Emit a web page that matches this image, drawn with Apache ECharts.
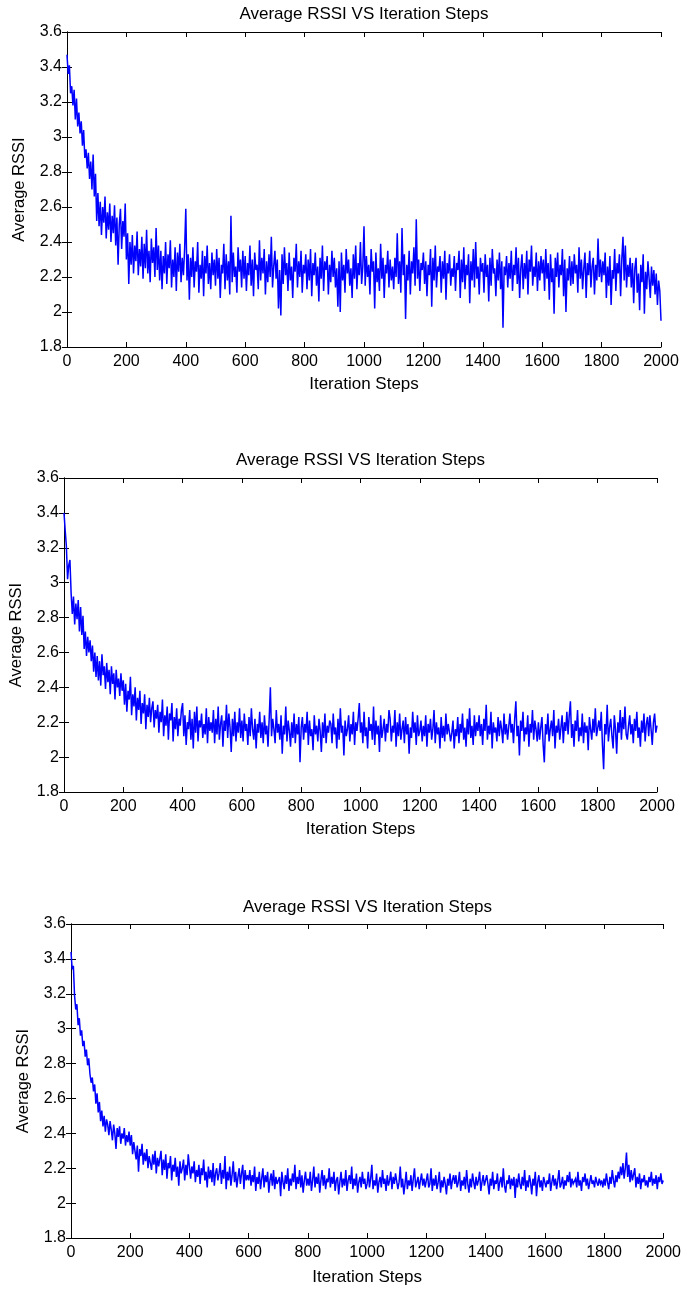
<!DOCTYPE html>
<html>
<head>
<meta charset="utf-8">
<script src="https://cdn.jsdelivr.net/npm/echarts@6/dist/echarts.min.js"></script>
<style>
html,body{margin:0;padding:0;background:#fff;}
#chart{width:684px;height:1289px;}
</style>
</head>
<body>
<div id="chart"></div>
<script>
// Iteration steps sampled every 4 steps from 0 to 2000
const stepSize = 4;
const xTicks = [0,200,400,600,800,1000,1200,1400,1600,1800,2000];
const yTicks = [1.8,2,2.2,2.4,2.6,2.8,3,3.2,3.4,3.6];
const titleText = 'Average RSSI VS Iteration Steps';
const xName = 'Iteration Steps';
const yName = 'Average RSSI';

const rssi1 = [
3.47,3.36,3.41,3.25,3.29,3.18,3.27,3.10,3.22,3.06,3.14,3.02,3.09,2.95,3.04,2.88,2.93,2.82,2.91,2.76,2.86,2.70,2.90,2.66,2.79,
2.52,2.68,2.49,2.63,2.44,2.60,2.51,2.66,2.42,2.57,2.47,2.62,2.40,2.55,2.45,2.61,2.38,2.54,2.27,2.50,2.59,2.36,2.52,2.43,2.62,
2.30,2.45,2.16,2.40,2.27,2.44,2.22,2.38,2.29,2.46,2.21,2.36,2.26,2.43,2.19,2.39,2.25,2.47,2.22,2.35,2.17,2.42,2.28,2.37,2.20,
2.48,2.24,2.38,2.18,2.35,2.13,2.32,2.22,2.40,2.16,2.33,2.25,2.41,2.14,2.30,2.20,2.37,2.12,2.34,2.23,2.39,2.17,2.31,2.21,2.36,
2.59,2.18,2.33,2.07,2.31,2.20,2.37,2.14,2.29,2.23,2.40,2.11,2.27,2.19,2.35,2.09,2.32,2.22,2.38,2.16,2.28,2.13,2.34,2.21,2.30,
2.15,2.36,2.19,2.31,2.08,2.27,2.22,2.39,2.13,2.33,2.18,2.29,2.10,2.55,2.17,2.34,2.20,2.26,2.11,2.37,2.23,2.30,2.14,2.35,2.19,
2.32,2.12,2.28,2.21,2.38,2.15,2.30,2.09,2.34,2.24,2.27,2.13,2.41,2.18,2.31,2.22,2.36,2.10,2.29,2.17,2.33,2.20,2.43,2.14,2.26,
2.35,2.19,2.30,2.02,2.24,1.98,2.33,2.16,2.37,2.21,2.28,2.12,2.34,2.18,2.26,2.08,2.31,2.23,2.39,2.14,2.29,2.20,2.35,2.11,2.27,
2.22,2.33,2.13,2.30,2.18,2.36,2.09,2.28,2.21,2.34,2.15,2.26,2.06,2.31,2.19,2.38,2.12,2.29,2.24,2.32,2.10,2.27,2.17,2.35,2.20,
2.31,2.14,2.25,2.03,2.29,2.00,2.34,2.18,2.27,2.11,2.36,2.22,2.30,2.15,2.25,2.08,2.33,2.19,2.38,2.13,2.28,2.21,2.40,2.16,2.26,
2.49,2.15,2.32,2.20,2.27,2.10,2.36,2.23,2.29,2.02,2.34,2.17,2.25,2.12,2.39,2.19,2.31,2.08,2.27,2.22,2.35,2.14,2.30,2.18,2.26,
2.13,2.31,2.20,2.45,2.16,2.29,2.11,2.48,2.21,2.33,1.96,2.27,2.18,2.35,2.10,2.29,2.22,2.37,2.15,2.53,2.19,2.30,2.12,2.28,2.24,
2.34,2.16,2.29,2.09,2.27,2.21,2.36,2.03,2.31,2.18,2.38,2.14,2.26,2.23,2.32,2.11,2.29,2.19,2.35,2.07,2.28,2.22,2.33,2.15,2.25,
2.20,2.32,2.12,2.28,2.24,2.35,2.08,2.30,2.17,2.37,2.13,2.27,2.21,2.33,2.05,2.29,2.18,2.36,2.14,2.40,2.19,2.26,2.10,2.31,2.23,
2.28,2.11,2.33,2.20,2.27,2.06,2.31,2.15,2.36,2.22,2.25,2.09,2.30,2.18,2.34,2.13,2.29,1.91,2.26,2.21,2.32,2.14,2.28,2.19,2.35,
2.12,2.27,2.21,2.37,2.16,2.31,2.08,2.25,2.33,2.13,2.28,2.19,2.35,2.10,2.30,2.23,2.38,2.15,2.26,2.20,2.34,2.12,2.29,2.18,2.32,
2.22,2.30,2.12,2.36,2.19,2.28,2.07,2.33,2.17,2.25,1.99,2.31,2.20,2.34,2.14,2.27,2.21,2.36,2.09,2.30,2.00,2.25,2.18,2.32,2.15,
2.29,2.16,2.33,2.22,2.27,2.11,2.37,2.19,2.30,2.13,2.25,2.34,2.08,2.28,2.21,2.35,2.14,2.26,2.31,2.10,2.27,2.18,2.42,2.20,2.30,
2.17,2.29,2.21,2.34,2.08,2.26,2.15,2.32,2.04,2.24,2.19,2.36,2.12,2.28,2.22,2.33,2.09,2.30,2.43,2.18,2.38,2.14,2.27,2.20,2.31,
2.14,2.28,2.05,2.25,2.31,2.11,2.22,2.01,2.27,2.17,2.33,1.99,2.23,2.13,2.29,2.19,2.08,2.26,2.15,2.24,2.10,2.22,2.04,2.18,2.12,
1.95];

const rssi2 = [
3.40,3.30,3.21,3.02,3.10,3.13,2.94,2.82,2.92,2.76,2.88,2.79,2.90,2.72,2.86,2.70,2.81,2.62,2.72,2.58,2.69,2.60,2.67,2.55,2.64,
2.49,2.60,2.46,2.58,2.44,2.55,2.41,2.59,2.47,2.52,2.39,2.54,2.43,2.50,2.36,2.52,2.42,2.48,2.33,2.50,2.40,2.45,2.35,2.48,2.38,
2.44,2.30,2.42,2.26,2.38,2.33,2.46,2.24,2.36,2.29,2.40,2.21,2.34,2.27,2.38,2.19,2.31,2.25,2.36,2.16,2.30,2.23,2.34,2.20,2.28,
2.32,2.17,2.27,2.22,2.30,2.14,2.26,2.20,2.33,2.12,2.24,2.18,2.29,2.10,2.25,2.21,2.31,2.09,2.23,2.16,2.28,2.12,2.22,2.18,2.27,
2.31,2.12,2.24,2.07,2.20,2.16,2.27,2.10,2.22,2.05,2.26,2.14,2.29,2.09,2.21,2.17,2.25,2.11,2.19,2.13,2.28,2.08,2.23,2.15,2.20,
2.14,2.27,2.08,2.22,2.13,2.29,2.10,2.19,2.24,2.06,2.21,2.15,2.30,2.11,2.25,2.17,2.03,2.22,2.12,2.26,2.09,2.20,2.14,2.28,2.11,
2.21,2.09,2.25,2.15,2.19,2.07,2.23,2.12,2.28,2.16,2.10,2.22,2.05,2.19,2.14,2.26,2.11,2.20,2.08,2.24,2.13,2.18,2.06,2.22,2.40,
2.12,2.22,2.16,2.08,2.27,2.14,2.19,2.10,2.24,2.02,2.18,2.13,2.29,2.09,2.21,2.15,2.06,2.20,2.11,2.25,2.08,2.19,2.13,2.23,1.97,
2.17,2.23,2.10,2.19,2.14,2.26,2.07,2.21,2.12,2.16,2.04,2.24,2.13,2.18,2.09,2.22,2.15,2.03,2.20,2.11,2.25,2.08,2.18,2.14,2.21,
2.19,2.08,2.25,2.13,2.17,2.05,2.22,2.10,2.28,2.14,2.18,2.01,2.21,2.12,2.16,2.24,2.09,2.19,2.13,2.26,2.07,2.20,2.15,2.22,2.31,
2.14,2.20,2.08,2.26,2.12,2.17,2.05,2.23,2.15,2.19,2.10,2.29,2.07,2.21,2.13,2.18,2.03,2.24,2.11,2.16,2.22,2.09,2.19,2.14,2.27,
2.22,2.09,2.18,2.14,2.27,2.06,2.20,2.12,2.25,2.10,2.16,2.21,2.08,2.23,2.13,2.19,2.02,2.17,2.11,2.26,2.14,2.20,2.07,2.24,2.12,
2.15,2.21,2.09,2.18,2.12,2.24,2.06,2.19,2.14,2.22,2.10,2.16,2.27,2.08,2.20,2.13,2.17,2.05,2.23,2.11,2.18,2.09,2.25,2.13,2.19,
2.18,2.09,2.14,2.21,2.05,2.16,2.12,2.23,2.08,2.19,2.14,2.25,2.10,2.17,2.06,2.22,2.13,2.28,2.11,2.18,2.07,2.24,2.12,2.20,2.15,
2.24,2.12,2.19,2.07,2.22,2.15,2.30,2.10,2.18,2.13,2.26,2.05,2.20,2.14,2.17,2.09,2.23,2.12,2.21,2.16,2.08,2.25,2.13,2.19,2.10,
2.11,2.25,2.14,2.19,2.08,2.22,2.32,2.12,2.18,2.01,2.21,2.15,2.26,2.09,2.17,2.13,2.24,2.06,2.19,2.14,2.27,2.10,2.21,2.16,2.09,
2.20,2.10,2.17,2.23,2.07,1.97,2.19,2.13,2.25,2.09,2.16,2.21,2.12,2.27,2.05,2.18,2.14,2.22,2.10,2.17,2.24,2.08,2.20,2.15,2.26,
2.13,2.24,2.32,2.11,2.19,2.06,2.21,2.15,2.27,2.09,2.17,2.12,2.25,2.08,2.20,2.14,2.18,2.04,2.23,2.16,2.10,2.22,2.14,2.28,2.12,
2.11,2.21,2.15,2.26,2.07,1.93,2.19,2.13,2.30,2.09,2.17,2.22,2.12,2.05,2.24,2.16,2.02,2.20,2.14,2.27,2.10,2.23,2.16,2.29,2.13,
2.10,2.18,2.24,2.13,2.19,2.08,2.22,2.15,2.26,2.11,2.17,2.06,2.21,2.14,2.25,2.09,2.19,2.23,2.12,2.24,2.16,2.07,2.20,2.25,2.14,
2.18];

const rssi3 = [
3.44,3.34,3.36,3.19,3.11,3.14,3.02,3.06,2.96,2.99,2.90,2.93,2.84,2.88,2.79,2.83,2.74,2.69,2.72,2.64,2.68,2.57,2.63,2.52,2.58,
2.47,2.53,2.44,2.50,2.41,2.48,2.45,2.39,2.47,2.42,2.36,2.45,2.40,2.31,2.43,2.38,2.44,2.34,2.40,2.37,2.43,2.33,2.39,2.35,2.41,
2.33,2.39,2.28,2.35,2.30,2.25,2.33,2.18,2.31,2.27,2.34,2.22,2.29,2.24,2.31,2.20,2.27,2.23,2.19,2.28,2.22,2.30,2.17,2.26,2.21,
2.22,2.30,2.16,2.25,2.19,2.28,2.14,2.23,2.20,2.27,2.13,2.22,2.18,2.26,2.15,2.21,2.10,2.24,2.17,2.20,2.25,2.13,2.22,2.16,2.28,
2.27,2.14,2.21,2.17,2.24,2.12,2.19,2.15,2.22,2.11,2.20,2.16,2.25,2.13,2.18,2.09,2.21,2.14,2.19,2.12,2.23,2.10,2.17,2.20,2.13,
2.17,2.23,2.11,2.19,2.14,2.27,2.08,2.18,2.13,2.21,2.10,2.16,2.24,2.12,2.18,2.09,2.15,2.20,2.11,2.17,2.22,2.08,2.19,2.13,2.16,
2.13,2.19,2.10,2.16,2.12,2.21,2.07,2.15,2.11,2.18,2.08,2.14,2.20,2.09,2.16,2.12,2.18,2.06,2.13,2.17,2.10,2.19,2.08,2.15,2.11,
2.10,2.15,2.04,2.18,2.12,2.08,2.16,2.11,2.20,2.07,2.14,2.10,2.17,2.12,2.22,2.08,2.15,2.11,2.19,2.09,2.16,2.06,2.13,2.18,2.10,
2.14,2.10,2.18,2.07,2.13,2.21,2.09,2.15,2.11,2.17,2.06,2.13,2.19,2.10,2.16,2.08,2.14,2.12,2.20,2.09,2.15,2.11,2.18,2.07,2.13,
2.15,2.05,2.12,2.18,2.09,2.14,2.10,2.19,2.07,2.13,2.16,2.11,2.21,2.08,2.14,2.10,2.17,2.06,2.12,2.15,2.09,2.18,2.11,2.14,2.08,
2.11,2.18,2.09,2.14,2.22,2.08,2.13,2.10,2.17,2.06,2.12,2.15,2.09,2.19,2.11,2.14,2.07,2.16,2.10,2.13,2.18,2.08,2.15,2.11,2.17,
2.17,2.08,2.12,2.21,2.09,2.14,2.05,2.11,2.18,2.08,2.13,2.10,2.16,2.07,2.14,2.20,2.09,2.12,2.15,2.08,2.13,2.17,2.10,2.14,2.09,
2.13,2.17,2.09,2.11,2.20,2.07,2.14,2.10,2.16,2.08,2.12,2.18,2.06,2.13,2.09,2.15,2.11,2.05,2.14,2.10,2.17,2.08,2.13,2.16,2.11,
2.16,2.09,2.12,2.18,2.07,2.13,2.10,2.15,2.08,2.19,2.11,2.06,2.14,2.09,2.17,2.12,2.08,2.15,2.10,2.13,2.18,2.07,2.12,2.16,2.10,
2.09,2.16,2.11,2.05,2.14,2.10,2.18,2.08,2.13,2.11,2.17,2.07,2.12,2.15,2.09,2.20,2.10,2.06,2.13,2.11,2.16,2.08,2.14,2.10,2.15,
2.03,2.14,2.09,2.17,2.11,2.08,2.15,2.10,2.19,2.07,2.13,2.09,2.16,2.12,2.05,2.14,2.10,2.18,2.04,2.12,2.16,2.09,2.13,2.07,2.15,
2.15,2.09,2.13,2.11,2.17,2.07,2.12,2.16,2.10,2.14,2.08,2.13,2.19,2.09,2.11,2.15,2.08,2.13,2.10,2.16,2.12,2.18,2.09,2.14,2.11,
2.11,2.14,2.09,2.18,2.10,2.13,2.07,2.15,2.12,2.17,2.10,2.14,2.08,2.12,2.16,2.11,2.13,2.09,2.15,2.12,2.10,2.14,2.11,2.13,2.09,
2.14,2.10,2.17,2.12,2.08,2.15,2.11,2.19,2.13,2.09,2.16,2.12,2.18,2.14,2.21,2.16,2.23,2.14,2.20,2.29,2.15,2.22,2.12,2.19,2.13,
2.13,2.20,2.09,2.15,2.11,2.17,2.08,2.14,2.12,2.16,2.10,2.13,2.09,2.15,2.12,2.18,2.10,2.14,2.11,2.16,2.08,2.15,2.12,2.17,2.11,
2.13];

const FONT = "'Liberation Sans', Arial, sans-serif";
const grids = [
  {left: 67, top: 32, width: 594, height: 315, titleTop: 6, xGap: 29, yGap: 39},
  {left: 64, top: 478, width: 593, height: 314, titleTop: 452, xGap: 28.5, yGap: 39},
  {left: 71, top: 924, width: 593, height: 314, titleTop: 899, xGap: 30.5, yGap: 39}
];
const allSeries = [rssi1, rssi2, rssi3];

const chart = echarts.init(document.getElementById('chart'), null, {renderer: 'canvas'});

const option = {
  animation: false,
  backgroundColor: '#ffffff',
  title: [], grid: [], xAxis: [], yAxis: [], series: []
};

const lineAx = {show: true, lineStyle: {color: '#000', width: 1}};
const tickAx = {show: true, inside: true, length: 5, lineStyle: {color: '#000', width: 1}};

grids.forEach((g, i) => {
  option.title.push({
    text: titleText, left: g.left + g.width / 2, top: g.titleTop, textAlign: 'center', padding: 0,
    textStyle: {fontFamily: FONT, fontSize: 17, fontWeight: 'normal', color: '#000'}
  });
  option.grid.push({left: g.left, top: g.top, width: g.width, height: g.height, containLabel: false});
  const xMin = xTicks[0], xMax = xTicks[xTicks.length - 1], xInt = xTicks[1] - xTicks[0];
  const yMin = yTicks[0], yMax = yTicks[yTicks.length - 1];
  option.xAxis.push({
    type: 'value', gridIndex: i, min: xMin, max: xMax, interval: xInt, position: 'bottom',
    name: xName, nameLocation: 'middle', nameGap: g.xGap,
    nameTextStyle: {fontFamily: FONT, fontSize: 17, color: '#000'},
    axisLine: lineAx, axisTick: tickAx, splitLine: {show: false},
    axisLabel: {fontFamily: FONT, fontSize: 16, color: '#000', margin: 7,
      formatter: v => String(v)}
  });
  option.xAxis.push({
    type: 'value', gridIndex: i, min: xMin, max: xMax, interval: xInt, position: 'top',
    axisLine: lineAx, axisTick: tickAx, splitLine: {show: false}, axisLabel: {show: false}
  });
  option.yAxis.push({
    type: 'value', gridIndex: i, min: yMin, max: yMax, interval: 0.2, position: 'left',
    name: yName, nameLocation: 'middle', nameGap: g.yGap,
    nameTextStyle: {fontFamily: FONT, fontSize: 16.5, color: '#000'},
    axisLine: lineAx, axisTick: tickAx, splitLine: {show: false},
    axisLabel: {fontFamily: FONT, fontSize: 16, color: '#000', margin: 5,
      formatter: v => String(Math.round(v * 10) / 10)}
  });
  option.yAxis.push({
    type: 'value', gridIndex: i, min: yMin, max: yMax, interval: 0.2, position: 'right',
    axisLine: lineAx, axisTick: tickAx, splitLine: {show: false}, axisLabel: {show: false}
  });
  option.series.push({
    type: 'line', xAxisIndex: 2 * i, yAxisIndex: 2 * i,
    data: allSeries[i].map((v, k) => [k * stepSize, v]),
    showSymbol: false, symbol: 'none',
    lineStyle: {color: '#0000ff', width: 1.5, join: 'miter', miterLimit: 4}, itemStyle: {color: '#0000ff'},
    clip: true
  });
});

chart.setOption(option);
</script>
</body>
</html>
